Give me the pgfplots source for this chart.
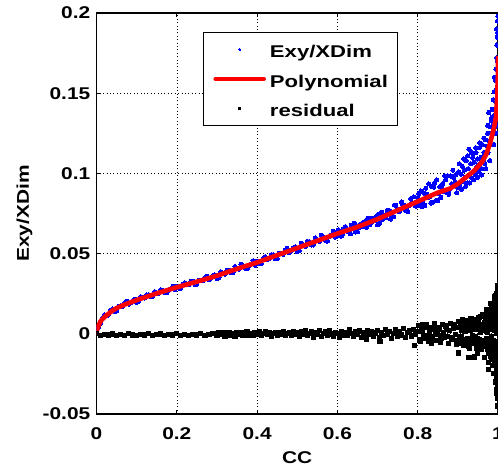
\documentclass[border=0pt]{standalone}
\usepackage{fontspec}
\setmainfont{Liberation Sans}[FakeStretch=1.23]
\newfontfamily\legfont{Liberation Sans}[FakeStretch=1.3]
\usepackage{pgfplots}
\pgfplotsset{compat=1.18}
\newcommand{\f}{\fontsize{17}{20}\selectfont\bfseries}
\newcommand{\lf}{\legfont\fontsize{17}{20}\selectfont\bfseries}
\definecolor{mblue}{RGB}{0,0,255}
\definecolor{mred}{RGB}{255,0,0}
\begin{document}
\begin{tikzpicture}
\begin{axis}[
  name=ax,
  clip marker paths=true,
  scale only axis, width=401.5pt, height=401pt,
  xmin=0, xmax=1, ymin=-0.05, ymax=0.2,
  xtick={0,0.2,0.4,0.6,0.8,1}, xticklabels={0,0.2,0.4,0.6,0.8,1},
  ytick={-0.05,0,0.05,0.1,0.15,0.2}, yticklabels={-0.05,0,0.05,0.1,0.15,0.2},
  tick align=inside, major tick length=4pt,
  tick style={black, line width=0.8pt},
  axis line style={black, line width=1.2pt},
  grid=major,
  major grid style={black, line width=0.6pt, dash pattern=on 0.8pt off 2.6pt},
  tick label style={font=\f},
  label style={font=\f},
  xticklabel style={anchor=base, inner sep=0pt, yshift=-25.5pt},
  yticklabel style={anchor=east, inner sep=0pt, xshift=-6pt},
  xlabel={CC}, ylabel={Exy/XDim},
  xlabel style={at={(axis description cs:0.5,-0.1247)}, anchor=base, inner sep=0pt},
  ylabel style={at={(axis description cs:-0.1686,0.5)}, anchor=base, inner sep=0pt},
  legend style={at={(0.2665,0.9525)}, anchor=north west, draw=black, line width=0.8pt,
    fill=white, font=\lf, inner xsep=9.5pt, inner ysep=5.5pt, row sep=6.5pt, column sep=4pt,
    nodes={inner sep=0pt, text height=20pt, text depth=3pt}},
  legend cell align=left,
  legend image code/.code={\draw[mark repeat=2,mark phase=2] plot coordinates {(0pt,0pt) (24pt,0pt) (48pt,0pt)};},
  legend image post style={mark size=1.1pt},
]
% Exy/XDim scatter
\addplot[only marks, mark=*, mark size=2.1pt, mblue, mark options={draw=mblue, fill=mblue, line width=0pt}] table {
x y
0.00 0.0005
0.01 0.0066
0.02 0.0119
0.03 0.0122
0.04 0.0154
0.05 0.0145
0.06 0.0174
0.07 0.0193
0.08 0.0185
0.09 0.0207
0.10 0.0197
0.11 0.0231
0.12 0.0223
0.13 0.0244
0.14 0.0234
0.15 0.0255
0.16 0.0275
0.17 0.0259
0.18 0.0273
0.19 0.0297
0.20 0.0295
0.21 0.0285
0.22 0.0318
0.23 0.0308
0.24 0.0327
0.25 0.0310
0.26 0.0334
0.27 0.0350
0.28 0.0339
0.29 0.0360
0.30 0.0344
0.31 0.0386
0.32 0.0372
0.33 0.0397
0.34 0.0382
0.35 0.0409
0.36 0.0433
0.37 0.0409
0.38 0.0427
0.39 0.0455
0.40 0.0451
0.41 0.0438
0.42 0.0481
0.43 0.0468
0.44 0.0493
0.45 0.0470
0.46 0.0501
0.47 0.0522
0.48 0.0507
0.49 0.0534
0.50 0.0513
0.51 0.0564
0.52 0.0546
0.53 0.0575
0.54 0.0554
0.55 0.0585
0.56 0.0614
0.57 0.0583
0.58 0.0605
0.59 0.0639
0.60 0.0634
0.61 0.0609
0.62 0.0668
0.63 0.0643
0.64 0.0675
0.65 0.0636
0.66 0.0678
0.67 0.0705
0.68 0.0679
0.69 0.0716
0.70 0.0679
0.71 0.0758
0.72 0.0725
0.73 0.0768
0.74 0.0731
0.75 0.0778
0.76 0.0822
0.77 0.0770
0.78 0.0802
0.79 0.0854
0.80 0.0848
0.81 0.0794
0.82 0.0908
0.83 0.0854
0.84 0.0914
0.85 0.0831
0.86 0.0910
0.87 0.0960
0.88 0.0902
0.89 0.0972
0.90 0.0911
0.005 0.0041
0.015 0.0099
0.025 0.0112
0.035 0.0147
0.045 0.0139
0.055 0.0171
0.065 0.0171
0.075 0.0202
0.085 0.0195
0.095 0.0215
0.105 0.0203
0.115 0.0226
0.125 0.0242
0.135 0.0233
0.145 0.0262
0.155 0.0252
0.165 0.0270
0.175 0.0257
0.185 0.0280
0.195 0.0276
0.205 0.0285
0.215 0.0308
0.225 0.0305
0.235 0.0327
0.245 0.0308
0.255 0.0333
0.265 0.0330
0.275 0.0358
0.285 0.0348
0.295 0.0367
0.305 0.0350
0.315 0.0378
0.325 0.0397
0.335 0.0382
0.345 0.0419
0.355 0.0403
0.365 0.0425
0.375 0.0405
0.385 0.0435
0.395 0.0427
0.405 0.0438
0.415 0.0469
0.425 0.0464
0.435 0.0493
0.445 0.0468
0.455 0.0501
0.465 0.0496
0.475 0.0533
0.485 0.0520
0.495 0.0543
0.505 0.0520
0.515 0.0554
0.525 0.0575
0.535 0.0554
0.545 0.0598
0.555 0.0577
0.565 0.0604
0.575 0.0578
0.585 0.0614
0.595 0.0603
0.605 0.0611
0.615 0.0652
0.625 0.0639
0.635 0.0677
0.645 0.0635
0.655 0.0680
0.665 0.0668
0.675 0.0719
0.685 0.0696
0.695 0.0728
0.705 0.0689
0.715 0.0740
0.725 0.0771
0.735 0.0734
0.745 0.0801
0.755 0.0764
0.765 0.0804
0.775 0.0760
0.785 0.0816
0.795 0.0796
0.805 0.0800
0.815 0.0878
0.825 0.0848
0.835 0.0920
0.845 0.0831
0.855 0.0916
0.865 0.0887
0.875 0.0985
0.885 0.0934
0.895 0.0993
0.6025 0.0648
0.6125 0.0623
0.6225 0.0649
0.6325 0.0624
0.6425 0.0689
0.6525 0.0659
0.6625 0.0692
0.6725 0.0665
0.6825 0.0720
0.6925 0.0704
0.7025 0.0746
0.7125 0.0713
0.7225 0.0748
0.7325 0.0715
0.7425 0.0802
0.7525 0.0761
0.7625 0.0805
0.7725 0.0769
0.7825 0.0841
0.7925 0.0817
0.8025 0.0875
0.8125 0.0821
0.8225 0.0869
0.8325 0.0815
0.8425 0.0941
0.8525 0.0876
0.8625 0.0937
0.8725 0.0879
0.8825 0.0984
0.8925 0.0946
0.8075 0.0890
0.8175 0.0800
0.8275 0.0935
0.8375 0.0820
0.8475 0.0960
0.8575 0.0850
0.8675 0.0985
0.8775 0.0870
0.8875 0.1020
0.8975 0.0880
0.9035 0.1060
0.9095 0.0900
0.9145 0.1090
0.9195 0.0920
0.9245 0.1110
0.9295 0.0940
0.9345 0.1130
0.9395 0.0960
0.9445 0.1160
0.9495 0.0975
0.9545 0.1190
0.9595 0.0990
0.9645 0.1220
0.9695 0.1030
0.9745 0.1300
0.9795 0.1080
0.9845 0.1350
0.9895 0.1180
0.9945 0.1250
0.9915 0.1600
0.9985 0.1300
0.9965 0.1900
0.902 0.1010
0.905 0.0930
0.908 0.0995
0.911 0.1045
0.913 0.0950
0.916 0.1020
0.918 0.0975
0.921 0.1080
0.923 0.0940
0.926 0.1030
0.928 0.1150
0.930 0.0985
0.932 0.1060
0.935 0.0970
0.937 0.1100
0.939 0.1015
0.941 0.1070
0.943 0.0995
0.945 0.1130
0.947 0.1040
0.949 0.1090
0.951 0.1010
0.953 0.1160
0.955 0.1060
0.957 0.1100
0.959 0.1030
0.961 0.1180
0.963 0.1080
0.965 0.1130
0.967 0.1060
0.969 0.1210
0.970 0.1120
0.972 0.1170
0.974 0.1250
0.975 0.1130
0.977 0.1380
0.978 0.1200
0.980 0.1290
0.981 0.1180
0.983 0.1330
0.984 0.1250
0.986 0.1400
0.987 0.1300
0.988 0.1460
0.989 0.1360
0.990 0.1280
0.991 0.1510
0.992 0.1400
0.993 0.1580
0.994 0.1450
0.995 0.1650
0.996 0.1520
0.997 0.1720
0.998 0.1600
0.998 0.1850
0.999 0.1700
0.999 0.1950
1.000 0.1800
1.000 0.1980
0.999 0.1880
0.997 0.1800
0.996 0.1380
0.994 0.1330
};
\addlegendentry{Exy/XDim}
% Polynomial fit
\addplot[mred, line width=4.6pt, line join=round, line cap=round, no marks] table {
x y
0 0
0.002 0.0030
0.006 0.0056
0.01 0.0078
0.02 0.0105
0.03 0.0125
0.04 0.0145
0.05 0.0160
0.07 0.0182
0.10 0.0210
0.15 0.0252
0.20 0.0290
0.25 0.0325
0.30 0.0362
0.35 0.0405
0.40 0.0445
0.45 0.0490
0.50 0.0535
0.55 0.0580
0.60 0.0625
0.65 0.0666
0.70 0.0715
0.75 0.0770
0.80 0.0825
0.85 0.0880
0.88 0.0905
0.90 0.0935
0.92 0.0975
0.94 0.1015
0.96 0.1070
0.97 0.1115
0.98 0.1185
0.99 0.1285
0.995 0.1350
0.998 0.1480
0.9995 0.1600
1.0 0.1720
};
\addlegendentry{Polynomial}
% residual
\addplot[only marks, mark=square*, mark size=2.1pt, black, mark options={draw=black, fill=black, line width=0pt}] table {
x y
0.00 0.0000
0.01 -0.0010
0.02 -0.0002
0.03 -0.0008
0.04 -0.0001
0.05 -0.0011
0.06 -0.0004
0.07 -0.0009
0.08 0.0000
0.09 -0.0007
0.10 -0.0012
0.11 -0.0003
0.12 -0.0008
0.13 0.0001
0.14 -0.0010
0.15 -0.0005
0.16 -0.0001
0.17 -0.0011
0.18 -0.0004
0.19 -0.0008
0.20 0.0000
0.21 -0.0009
0.22 -0.0003
0.23 -0.0012
0.24 -0.0002
0.25 -0.0007
0.26 0.0002
0.27 -0.0010
0.28 -0.0004
0.29 0.0001
0.300 -0.0012
0.305 0.0006
0.310 -0.0005
0.315 0.0008
0.320 -0.0014
0.325 0.0001
0.330 0.0009
0.335 -0.0009
0.340 0.0003
0.345 -0.0015
0.350 0.0007
0.355 -0.0004
0.360 0.0010
0.365 -0.0011
0.370 0.0000
0.375 0.0012
0.380 -0.0008
0.385 0.0004
0.390 -0.0013
0.395 0.0008
0.400 -0.0002
0.405 0.0011
0.410 -0.0010
0.415 0.0002
0.420 0.0013
0.425 -0.0006
0.430 0.0007
0.435 -0.0014
0.440 0.0003
0.445 0.0010
0.450 -0.0009
0.455 0.0005
0.460 -0.0003
0.465 0.0014
0.470 -0.0012
0.475 0.0001
0.480 0.0009
0.485 -0.0007
0.490 0.0012
0.495 -0.0004
0.500 0.0006
0.505 -0.0018
0.510 0.0015
0.515 -0.0005
0.520 0.0020
0.525 -0.0012
0.530 0.0002
0.535 0.0011
0.540 -0.0021
0.545 0.0008
0.550 -0.0003
0.555 0.0019
0.560 -0.0015
0.565 0.0004
0.570 0.0013
0.575 -0.0009
0.580 0.0022
0.585 -0.0001
0.590 -0.0017
0.595 0.0010
0.600 0.0003
0.605 -0.0020
0.610 0.0016
0.615 -0.0007
0.620 0.0009
0.625 -0.0013
0.630 0.0024
0.635 0.0000
0.640 -0.0016
0.645 0.0012
0.650 -0.0005
0.655 0.0018
0.660 -0.0022
0.665 0.0007
0.670 -0.0010
0.675 0.0021
0.680 -0.0003
0.685 0.0014
0.690 -0.0019
0.695 0.0005
0.700 0.0020
0.705 -0.0026
0.710 0.0008
0.715 -0.0012
0.720 0.0029
0.725 -0.0004
0.730 0.0015
0.735 -0.0030
0.740 0.0003
0.745 0.0024
0.750 -0.0018
0.755 0.0011
0.760 -0.0008
0.765 0.0031
0.770 -0.0022
0.775 0.0006
0.780 0.0018
0.785 -0.0014
0.790 0.0027
0.795 -0.0005
0.706 -0.0048
0.672 -0.0032
0.792 -0.0075
0.835 -0.0057
0.800 0.0012
0.805 -0.0035
0.810 0.0030
0.815 -0.0010
0.820 0.0041
0.825 -0.0024
0.830 0.0006
0.835 0.0025
0.840 -0.0040
0.845 0.0015
0.850 -0.0006
0.855 0.0036
0.860 -0.0028
0.865 0.0009
0.870 0.0044
0.875 -0.0018
0.880 0.0022
0.885 -0.0038
0.890 0.0031
0.895 -0.0003
0.8125 0.0018
0.8275 -0.0015
0.8425 0.0033
0.8575 -0.0012
0.8725 0.0026
0.8875 -0.0021
0.8025 0.0050
0.8075 -0.0045
0.8125 0.0060
0.8175 -0.0030
0.8225 0.0055
0.8275 -0.0050
0.8325 0.0040
0.8375 -0.0015
0.8425 0.0065
0.8475 -0.0040
0.8525 0.0030
0.8575 -0.0055
0.8625 0.0060
0.8675 -0.0025
0.8725 0.0050
0.8775 -0.0060
0.8825 0.0065
0.8875 -0.0035
0.8925 0.0055
0.8975 -0.0065
0.9025 0.0075
0.9075 -0.0050
0.9125 0.0090
0.9175 -0.0035
0.9225 0.0060
0.9275 -0.0080
0.9325 0.0095
0.9375 -0.0060
0.9425 0.0070
0.9475 -0.0030
0.9525 0.0100
0.9575 -0.0095
0.9625 0.0120
0.9675 -0.0070
0.9725 0.0150
0.9775 -0.0120
0.9825 0.0190
0.9875 -0.0160
0.9925 0.0230
0.9975 0.0250
0.9965 -0.0280
0.9985 -0.0320
0.9955 0.0200
0.9945 -0.0250
0.9935 0.0150
0.9915 -0.0180
0.9895 0.0140
0.9865 0.0060
0.9845 0.0120
0.9815 -0.0030
0.9795 0.0090
0.9765 -0.0060
0.9745 0.0020
0.9715 -0.0030
0.9685 0.0040
0.9655 0.0070
0.9635 -0.0040
0.9615 0.0020
0.9585 0.0060
0.9565 0.0010
0.9545 -0.0060
0.9515 0.0040
0.9485 0.0050
0.9465 -0.0090
0.9445 -0.0020
0.9415 0.0030
0.9385 0.0040
0.9345 -0.0040
0.9315 0.0020
0.9285 0.0050
0.9255 -0.0030
0.9205 -0.0060
0.9165 0.0040
0.9105 0.0020
0.9055 -0.0020
0.9005 -0.0040
0.900 0.0040
0.903 -0.0060
0.906 0.0070
0.909 -0.0020
0.912 0.0055
0.915 -0.0075
0.918 0.0015
0.921 0.0080
0.924 -0.0045
0.927 0.0030
0.930 -0.0090
0.933 0.0065
0.936 -0.0010
0.939 0.0090
0.942 -0.0060
0.945 0.0025
0.948 -0.0120
0.951 0.0085
0.954 -0.0035
0.957 0.0110
0.960 -0.0080
0.963 0.0045
0.966 -0.0150
0.969 0.0100
0.902 -0.0120
0.928 -0.0150
0.942 -0.0145
0.977 -0.0225
0.970 -0.0060
0.972 0.0120
0.974 -0.0100
0.975 0.0080
0.977 -0.0180
0.978 0.0140
0.980 -0.0050
0.981 0.0100
0.982 -0.0140
0.983 0.0160
0.984 -0.0090
0.985 0.0050
0.986 -0.0200
0.987 0.0180
0.988 -0.0120
0.989 0.0090
0.990 -0.0250
0.991 0.0200
0.992 -0.0160
0.993 0.0120
0.994 -0.0300
0.995 0.0240
0.996 -0.0220
0.997 0.0160
0.997 -0.0350
0.998 0.0280
0.998 -0.0100
0.999 0.0220
0.999 -0.0400
1.000 0.0300
1.000 -0.0450
0.999 0.0050
0.998 -0.0280
0.996 0.0080
0.995 -0.0060
0.993 -0.0080
0.991 0.0020
0.989 -0.0040
0.987 0.0030
0.985 -0.0150
0.983 0.0060
0.981 -0.0070
0.979 0.0040
0.976 0.0030
0.973 0.0010
0.996 0.0000
0.997 0.0100
0.998 0.0050
0.999 -0.0150
1.000 0.0100
1.000 -0.0200
0.999 0.0150
0.998 -0.0200
0.997 -0.0180
0.996 0.0180
0.995 0.0120
0.994 0.0040
0.993 -0.0200
0.992 0.0080
0.991 -0.0100
0.990 0.0120
0.988 0.0080
0.986 0.0100
0.984 -0.0020
0.982 0.0080
0.980 -0.0110
0.978 -0.0080
0.976 -0.0120
0.974 0.0060
0.971 0.0050
0.9975 -0.0370
1.000 0.0200
1.000 0.0000
1.000 -0.0100
1.000 -0.0300
1.000 -0.0380
0.999 -0.0050
0.999 0.0280
0.999 -0.0250
0.999 -0.0330
0.998 0.0120
0.998 0.0200
0.997 -0.0050
0.997 -0.0260
0.997 0.0230
0.996 -0.0120
0.996 0.0120
};
\addlegendentry{residual}
\end{axis}
\pgfresetboundingbox
\useasboundingbox ([xshift=-96.5pt,yshift=-56pt]ax.south west) rectangle ([yshift=13pt]ax.north east);
\end{tikzpicture}
\end{document}
